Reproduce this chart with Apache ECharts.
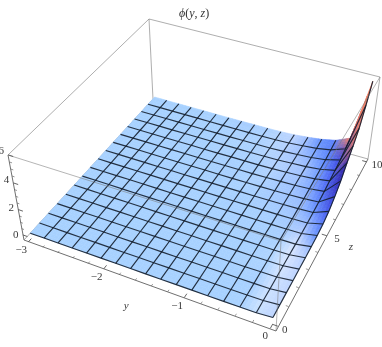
<!DOCTYPE html>
<html><head><meta charset="utf-8">
<style>html,body{margin:0;padding:0;background:#fff}#c{width:382px;height:347px}</style>
<script src="https://cdn.jsdelivr.net/npm/echarts@6/dist/echarts.min.js"></script>
</head><body><div id="c"></div>
<script>
// mesh coordinates
const yLines=[-3,-2.8125,-2.625,-2.4375,-2.25,-2.0625,-1.875,-1.6875,-1.5,-1.3125,-1.125,-0.9375,-0.75,-0.5625,-0.375,-0.1875,0];
const zLines=[0,0.625,1.25,1.875,2.5,3.125,3.75,4.375,5,5.625,6.25,6.875,7.5,8.125,8.75,9.375,10];
// phi values: one row per z line, one column per y line
const phi=[
[0,0,0,0,0,0,0,0,0,0,0,0,0,0,0,0.01,0.10],
[0,0,0,0,0,0,0,0,0,0,0,0,0,0,0,0.01,0.12],
[0,0,0,0,0,0,0,0,0,0,0,0,0,0,0,0.01,0.14],
[0,0,0,0,0,0,0,0,0,0,0,0,0,0,0.01,0.02,0.16],
[0,0,0,0,0,0,0,0,0,0,0,0,0,0,0.01,0.02,0.18],
[0,0,0,0,0,0,0,0,0,0,0,0,0,0,0.01,0.03,0.20],
[0,0,0,0,0,0,0,0,0,0,0,0,0,0.01,0.01,0.03,0.23],
[0,0,0,0,0,0,0,0,0,0,0,0,0.01,0.01,0.02,0.05,0.28],
[0,0,0,0,0,0,0,0,0,0,0,0.01,0.01,0.02,0.04,0.08,0.38],
[0,0,0,0,0,0,0,0,0,0,0.01,0.01,0.02,0.04,0.07,0.13,0.60],
[0,0,0,0,0,0,0,0,0,0,0.01,0.02,0.04,0.07,0.11,0.20,1.00],
[0,0,0,0,0,0,0,0,0,0.01,0.01,0.03,0.06,0.10,0.16,0.30,1.50],
[0,0,0,0,0,0,0,0,0.01,0.01,0.02,0.04,0.09,0.14,0.23,0.42,2.20],
[0,0,0,0,0,0,0,0,0.01,0.01,0.03,0.05,0.11,0.17,0.29,0.54,2.80],
[0,0,0,0,0,0,0,0,0.01,0.02,0.03,0.07,0.14,0.22,0.37,0.68,3.50],
[0,0,0,0,0,0,0,0,0.01,0.02,0.04,0.09,0.18,0.28,0.48,0.90,4.60],
[0,0,0,0,0,0,0,0.01,0.02,0.03,0.05,0.11,0.22,0.36,0.60,1.10,5.80]
];
const yTicks=[-3,-2,-1,0];
const zTicks=[0,5,10];
const phiTicks=[0,2,4,6];
const yRange=[-3.06,0.06], zRange=[-0.2,10.2], phiRange=[-0.45,6.05];

// view: where the eight corners of the plot box fall on the page
const boxView=[
 [0,0,0,24,240],[1,0,0,276,331],[1,1,0,368,159],[0,1,0,153,99],
 [0,0,1,8,155],[1,0,1,281,241],[1,1,1,380,77],[0,1,1,149,19]];
function solveCamera(pts){
  const A=[],b=[];
  pts.forEach(([u,v,w,x,y])=>{
    A.push([u,v,w,1,0,0,0,0,-x*u,-x*v,-x*w]);b.push(x);
    A.push([0,0,0,0,u,v,w,1,-y*u,-y*v,-y*w]);b.push(y);
  });
  const n=11,M=[];
  for(let i=0;i<n;i++){M.push([]);for(let j=0;j<n;j++){let s=0;A.forEach(r=>s+=r[i]*r[j]);M[i].push(s);}
    let t=0;A.forEach((r,k)=>t+=r[i]*b[k]);M[i].push(t);}
  for(let i=0;i<n;i++){let p=i;for(let k=i+1;k<n;k++)if(Math.abs(M[k][i])>Math.abs(M[p][i]))p=k;
    [M[i],M[p]]=[M[p],M[i]];
    for(let k=0;k<n;k++){if(k===i)continue;const f=M[k][i]/M[i][i];for(let j=i;j<=n;j++)M[k][j]-=f*M[i][j];}}
  return M.map((r,i)=>r[n]/r[i]);
}
const cam=solveCamera(boxView);
function boxProj(u,v,w){const d=cam[8]*u+cam[9]*v+cam[10]*w+1;
  return [(cam[0]*u+cam[1]*v+cam[2]*w+cam[3])/d,(cam[4]*u+cam[5]*v+cam[6]*w+cam[7])/d];}
const U=y=>(y-yRange[0])/(yRange[1]-yRange[0]);
const V=z=>(z-zRange[0])/(zRange[1]-zRange[0]);
const W=p=>(p-phiRange[0])/(phiRange[1]-phiRange[0]);
const proj=(y,z,p)=>boxProj(U(y),V(z),W(p));

// shading from the local slopes of the data
const clamp=x=>Math.max(0,Math.min(1,x));
const mix=(a,b,t)=>[a[0]+(b[0]-a[0])*t,a[1]+(b[1]-a[1])*t,a[2]+(b[2]-a[2])*t];
function slopes(r,c){
  const r0=Math.max(0,r-1),r1=Math.min(16,r+1),c0=Math.max(0,c-1),c1=Math.min(16,c+1);
  return [(phi[r][c1]-phi[r][c0])/(c1-c0),(phi[r1][c]-phi[r0][c])/(r1-r0)];
}
function shade(r,c){
  const [sy,sz]=slopes(r,c);
  let col=[167,209,255];
  col=mix(col,[238,242,255],0.9*clamp(sy/0.1)*(1-clamp(sz/0.1)));
  const q=sz+0.25*sy*clamp(sz/0.1);
  col=mix(col,[100,145,255],clamp(q/0.12));
  col=mix(col,[70,90,240],clamp((q-0.12)/0.3));
  col=mix(col,[50,45,190],clamp((q-0.45)/0.4));
  col=mix(col,[55,30,140],clamp((q-0.85)/0.5));
  col=mix(col,[245,130,100],clamp((sy-1.9)/0.5));
  return col;
}
const vertColor=[];for(let r=0;r<=16;r++){vertColor.push([]);for(let c=0;c<=16;c++)vertColor[r].push(shade(r,c));}

const cells=[];
for(let r=15;r>=0;r--)for(let c=0;c<16;c++)cells.push([r,c]);
const SUB=4;
function cellPoint(r,c,a,b){
  const yy=yLines[c]+(yLines[c+1]-yLines[c])*a, zz=zLines[r]+(zLines[r+1]-zLines[r])*b;
  const p=(1-a)*(1-b)*phi[r][c]+a*(1-b)*phi[r][c+1]+(1-a)*b*phi[r+1][c]+a*b*phi[r+1][c+1];
  return proj(yy,zz,p);
}
function cellColor(r,c,a,b){
  const q=[0,1,2].map(i=>(1-a)*(1-b)*vertColor[r][c][i]+a*(1-b)*vertColor[r][c+1][i]+(1-a)*b*vertColor[r+1][c][i]+a*b*vertColor[r+1][c+1][i]);
  return `rgb(${q.map(Math.round).join(',')})`;
}
function renderCell(params,api){
  const r=api.value(0),c=api.value(1),kids=[];
  for(let i=0;i<SUB;i++)for(let j=0;j<SUB;j++){
    const a0=i/SUB,a1=(i+1)/SUB,b0=j/SUB,b1=(j+1)/SUB;
    const pts=[[a0,b0],[a1,b0],[a1,b1],[a0,b1]].map(t=>api.coord(cellPoint(r,c,t[0],t[1])));
    const f=cellColor(r,c,(a0+a1)/2,(b0+b1)/2);
    kids.push({type:'polygon',shape:{points:pts},style:{fill:f,stroke:f,lineWidth:0.6}});
  }
  return {type:'group',children:kids};
}

const meshLines=[];
for(let i=1;i<=16;i++)meshLines.push([0,i]);
for(let i=0;i<=15;i++)meshLines.push([1,i]);
function renderMesh(params,api){
  const kind=api.value(0),i=api.value(1),pts=[];
  for(let k=0;k<=16;k++){
    const q=kind===0?proj(yLines[i],zLines[k],phi[k][i]):proj(yLines[k],zLines[i],phi[i][k]);
    pts.push(api.coord(q));
  }
  return {type:'polyline',shape:{points:pts},style:{stroke:'rgba(20,30,44,0.9)',lineWidth:1.15,fill:null}};
}
const backEdges=[[3,7],[7,4],[7,6],[0,3],[3,2],[2,6]];
const frontEdges=[[4,5],[5,6],[5,1]];
const axisEdges=[[0,1],[1,2],[0,4]];
function edgeRenderer(list,color){
  return function(params,api){
    const e=list[api.value(0)];
    const a=boxView[e[0]],b=boxView[e[1]];
    return {type:'line',shape:{x1:api.coord([a[3],a[4]])[0],y1:api.coord([a[3],a[4]])[1],x2:api.coord([b[3],b[4]])[0],y2:api.coord([b[3],b[4]])[1]},
      style:{stroke:color,lineWidth:1}};
  };
}
const idx=l=>l.map((_,i)=>[i,0]);
const ticks=[];
for(let i=0;i<=15;i++){const y=-3+i*0.2;ticks.push(['y',y,Math.abs(y-Math.round(y))<1e-6]);}
for(let i=0;i<=10;i++)ticks.push(['z',i,i%5===0]);
for(let i=0;i<=12;i++)ticks.push(['p',i*0.5,i%4===0]);
function renderTick(params,api){
  const t=ticks[params.dataIndex],len=t[2]?0.02:0.01;let a,b;
  if(t[0]==='y'){const u=U(t[1]);a=boxProj(u,0,0);b=boxProj(u,len,0);}
  else if(t[0]==='z'){const v=V(t[1]);a=boxProj(1,v,0);b=boxProj(1-len,v,0);}
  else{const w=W(t[1]);a=boxProj(0,0,w);b=boxProj(len,0,w);}
  const A=api.coord(a),B=api.coord(b);
  return {type:'line',shape:{x1:A[0],y1:A[1],x2:B[0],y2:B[1]},style:{stroke:'#555',lineWidth:t[2]?0.9:0.6}};
}
const labels=[];
yTicks.forEach(v=>labels.push([String(v).replace('-','\u2212'),proj(v,zRange[0],phiRange[0]),v===0?-5:-7,8,false]));
zTicks.forEach(v=>labels.push([String(v),proj(yRange[1],v,phiRange[0]),v===0?7:10,3.5,false]));
phiTicks.forEach(v=>labels.push([String(v),proj(yRange[0],zRange[0],v),-7,-v*0.6,false]));
labels.push(['y',proj(-1.5,zRange[0],phiRange[0]),-17,23,true]);
labels.push(['z',proj(yRange[1],5,phiRange[0]),24,11,true]);
function renderLabel(params,api){
  const l=labels[params.dataIndex],c=api.coord(l[1]);
  return {type:'text',style:{x:c[0]+l[2],y:c[1]+l[3],text:l[0],fill:'#3a3a3a',
    font:(l[4]?'italic ':'')+'11px "Liberation Serif"',align:'center',verticalAlign:'middle'}};
}
const layer=(fn,data,z)=>({type:'custom',coordinateSystem:'cartesian2d',renderItem:fn,data,z,clip:false,silent:true,animation:false,
  encode:{x:0,y:1},progressive:0});

const chart=echarts.init(document.getElementById('c'),null,{renderer:'canvas'});
chart.setOption({
  animation:false,backgroundColor:'#fff',
  title:{text:'{i|\u03D5}{n|(}{i|y}{n|, }{i|z}{n|)}',left:179,top:8,padding:0,
    textStyle:{fontWeight:'normal',rich:{i:{fontFamily:'Liberation Serif',fontStyle:'italic',fontWeight:'normal',fontSize:12,color:'#333'},
                     n:{fontFamily:'Liberation Serif',fontWeight:'normal',fontSize:12,color:'#333'}}}},
  grid:{left:0,right:0,top:0,bottom:0},
  xAxis:{type:'value',min:0,max:382,show:false},
  yAxis:{type:'value',min:0,max:347,inverse:true,show:false},
  series:[
    layer(edgeRenderer(backEdges,'rgba(120,120,120,0.6)'),idx(backEdges),1),
    layer(renderCell,cells,2),
    layer(renderMesh,meshLines,3),
    layer(edgeRenderer(frontEdges,'rgba(120,120,120,0.55)'),idx(frontEdges),4),
    layer(edgeRenderer(axisEdges,'#707070'),idx(axisEdges),4),
    layer(renderTick,ticks.map((t,i)=>[i,0]),4),
    layer(renderLabel,labels.map((t,i)=>[i,0]),5)
  ]
});
</script></body></html>
